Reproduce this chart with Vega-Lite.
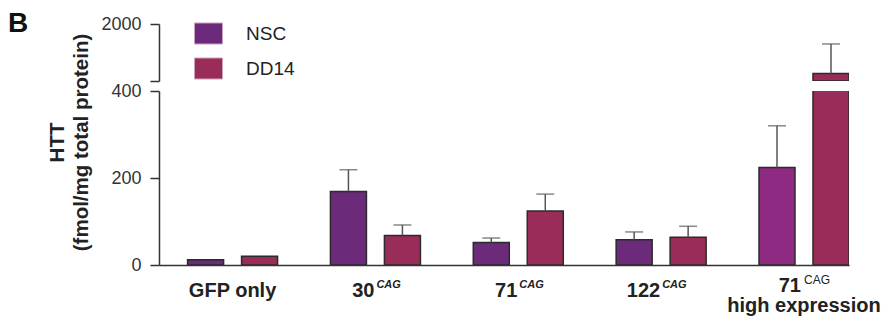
{
  "$schema": "https://vega.github.io/schema/vega-lite/v6.json",
  "background": "white",
  "padding": {"left": 8, "top": 10, "right": 0, "bottom": 0},
  "title": {"text": "B", "fontSize": 28, "fontWeight": "bold", "anchor": "start", "frame": "bounds", "color": "#111", "dx": -39, "dy": 23, "offset": 0},
  "config": {
    "font": "Liberation Sans",
    "view": {"stroke": null},
    "axis": {"labelFont": "Liberation Sans", "labelFontSize": 18, "labelColor": "#333", "domainColor": "#333", "tickColor": "#333", "domainWidth": 1.5, "tickWidth": 1.5, "tickSize": 9, "labelPadding": 9, "grid": false},
    "text": {"font": "Liberation Sans", "color": "#222"}
  },
  "datasets": {
    "bars": [
      {"cat": "GFP", "cell": "NSC", "value": 12, "err": null},
      {"cat": "GFP", "cell": "DD14", "value": 20, "err": null},
      {"cat": "30", "cell": "NSC", "value": 169, "err": 219},
      {"cat": "30", "cell": "DD14", "value": 68, "err": 92},
      {"cat": "71", "cell": "NSC", "value": 52, "err": 62},
      {"cat": "71", "cell": "DD14", "value": 124, "err": 163},
      {"cat": "122", "cell": "NSC", "value": 58, "err": 76},
      {"cat": "122", "cell": "DD14", "value": 64, "err": 89},
      {"cat": "71h", "cell": "NSC", "value": 224, "err": 320},
      {"cat": "71h", "cell": "DD14", "value": 610, "err": 1440}
    ],
    "labels": [
      {"cat": "GFP", "center": "GFP only"},
      {"cat": "30", "num": "30", "sup": "CAG"},
      {"cat": "71", "num": "71", "sup": "CAG"},
      {"cat": "122", "num": "122", "sup": "CAG"},
      {"cat": "71h", "num": "71", "sup": "CAG", "line2": "high expression"}
    ]
  },
  "bounds": "flush",
  "spacing": 10,
  "resolve": {"scale": {"y": "independent", "color": "independent"}, "legend": {"color": "independent"}},
  "vconcat": [
    {
      "width": 690,
      "height": 57,
      "data": {"name": "bars"},
      "encoding": {
        "x": {"field": "cat", "type": "nominal", "scale": {"domain": ["GFP", "30", "71", "122", "71h"], "paddingInner": 0.37, "paddingOuter": 0.1, "align": 1}, "axis": null},
        "xOffset": {"field": "cell", "type": "nominal", "scale": {"domain": ["NSC", "DD14"], "paddingInner": 0.333, "paddingOuter": 0}}
      },
      "layer": [
        {
          "transform": [{"filter": "datum.value > 400"}],
          "mark": {"type": "bar", "stroke": "#2b2b2b", "strokeWidth": 1.5, "clip": true},
          "encoding": {
            "y": {"field": "value", "type": "quantitative", "scale": {"domain": [400, 2000], "nice": false, "zero": false},
                  "axis": {"values": [400, 2000], "format": "d", "labelExpr": "datum.value == 400 ? '' : datum.label", "title": null}},
            "y2": {"datum": 400},
            "color": {
              "condition": {"test": "datum.cat == '71h' && datum.cell == 'NSC'", "value": "#8E2A82"},
              "field": "cell", "type": "nominal",
              "scale": {"domain": ["NSC", "DD14"], "range": ["#6B2A7A", "#9A2C5A"]},
              "legend": {"orient": "none", "legendX": 35, "legendY": -5, "title": null, "padding": 0, "symbolType": "M-1,-0.75H1V0.75H-1Z", "symbolSize": 784, "symbolStrokeColor": "#c9a0bd", "symbolStrokeWidth": 1, "symbolOpacity": 1, "labelFontSize": 19, "labelColor": "#222", "labelOffset": 23, "rowPadding": 8}
            }
          }
        },
        {
          "transform": [{"filter": "datum.err > 400"}],
          "mark": {"type": "rule", "color": "#555", "strokeWidth": 1.5, "clip": true},
          "encoding": {"y": {"field": "value", "type": "quantitative"}, "y2": {"field": "err"}}
        },
        {
          "transform": [{"filter": "datum.err > 400"}],
          "mark": {"type": "tick", "color": "#555", "thickness": 1.5, "size": 18, "clip": true},
          "encoding": {"y": {"field": "err", "type": "quantitative"}}
        }
      ]
    },
    {
      "width": 690,
      "height": 174,
      "layer": [
        {
          "data": {"name": "bars"},
          "mark": {"type": "bar", "stroke": "#2b2b2b", "strokeWidth": 1.5, "clip": true},
          "encoding": {
            "x": {"field": "cat", "type": "nominal", "scale": {"domain": ["GFP", "30", "71", "122", "71h"], "paddingInner": 0.37, "paddingOuter": 0.1, "align": 1}, "axis": {"labels": false, "ticks": false, "title": null}},
            "xOffset": {"field": "cell", "type": "nominal", "scale": {"domain": ["NSC", "DD14"], "paddingInner": 0.333, "paddingOuter": 0}},
            "y": {"field": "value", "type": "quantitative", "scale": {"domain": [0, 400], "nice": false},
                  "axis": {"values": [0, 200, 400], "title": ["HTT", "(fmol/mg total protein)"], "titleFontSize": 20.5, "titleFontWeight": "bold", "titleColor": "#222", "titleLineHeight": 24, "titleX": -102, "titleY": 51, "titleBaseline": "middle", "titleAlign": "center", "titleAngle": 270}},
            "color": {
              "condition": {"test": "datum.cat == '71h' && datum.cell == 'NSC'", "value": "#8E2A82"},
              "field": "cell", "type": "nominal",
              "scale": {"domain": ["NSC", "DD14"], "range": ["#6B2A7A", "#9A2C5A"]},
              "legend": null
            }
          }
        },
        {
          "data": {"name": "bars"},
          "transform": [{"filter": "datum.err != null && datum.err <= 400"}],
          "mark": {"type": "rule", "color": "#555", "strokeWidth": 1.5, "clip": true},
          "encoding": {
            "x": {"field": "cat", "type": "nominal"},
            "xOffset": {"field": "cell", "type": "nominal"},
            "y": {"field": "value", "type": "quantitative"}, "y2": {"field": "err"}}
        },
        {
          "data": {"name": "bars"},
          "transform": [{"filter": "datum.err != null && datum.err <= 400"}],
          "mark": {"type": "tick", "color": "#555", "thickness": 1.5, "size": 18, "clip": true},
          "encoding": {
            "x": {"field": "cat", "type": "nominal"},
            "xOffset": {"field": "cell", "type": "nominal"},
            "y": {"field": "err", "type": "quantitative"}}
        },
        {
          "data": {"name": "labels"},
          "transform": [{"filter": "datum.center != null"}],
          "mark": {"type": "text", "fontSize": 20, "fontWeight": "bold", "align": "center", "baseline": "alphabetic", "dy": 32},
          "encoding": {"x": {"field": "cat", "type": "nominal"}, "y": {"datum": 0}, "text": {"field": "center"}}
        },
        {
          "data": {"name": "labels"},
          "transform": [{"filter": "datum.num != null && datum.cat != '71h'"}],
          "mark": {"type": "text", "fontSize": 20, "fontWeight": "bold", "align": "right", "baseline": "alphabetic", "dy": 32, "dx": -1},
          "encoding": {"x": {"field": "cat", "type": "nominal"}, "y": {"datum": 0}, "text": {"field": "num"}}
        },
        {
          "data": {"name": "labels"},
          "transform": [{"filter": "datum.sup != null && datum.cat != '71h'"}],
          "mark": {"type": "text", "fontSize": 11, "fontWeight": "bold", "fontStyle": "italic", "align": "left", "baseline": "alphabetic", "dy": 23, "dx": 1},
          "encoding": {"x": {"field": "cat", "type": "nominal"}, "y": {"datum": 0}, "text": {"field": "sup"}}
        },
        {
          "data": {"name": "labels"},
          "transform": [{"filter": "datum.cat == '71h'"}],
          "mark": {"type": "text", "fontSize": 20, "fontWeight": "bold", "align": "right", "baseline": "alphabetic", "dy": 27, "dx": -3},
          "encoding": {"x": {"field": "cat", "type": "nominal"}, "y": {"datum": 0}, "text": {"field": "num"}}
        },
        {
          "data": {"name": "labels"},
          "transform": [{"filter": "datum.cat == '71h'"}],
          "mark": {"type": "text", "fontSize": 12, "align": "left", "baseline": "alphabetic", "dy": 19, "dx": 0},
          "encoding": {"x": {"field": "cat", "type": "nominal"}, "y": {"datum": 0}, "text": {"field": "sup"}}
        },
        {
          "data": {"name": "labels"},
          "transform": [{"filter": "datum.line2 != null"}],
          "mark": {"type": "text", "fontSize": 20, "fontWeight": "bold", "align": "center", "baseline": "alphabetic", "dy": 47},
          "encoding": {"x": {"field": "cat", "type": "nominal"}, "y": {"datum": 0}, "text": {"field": "line2"}}
        }
      ]
    }
  ]
}
